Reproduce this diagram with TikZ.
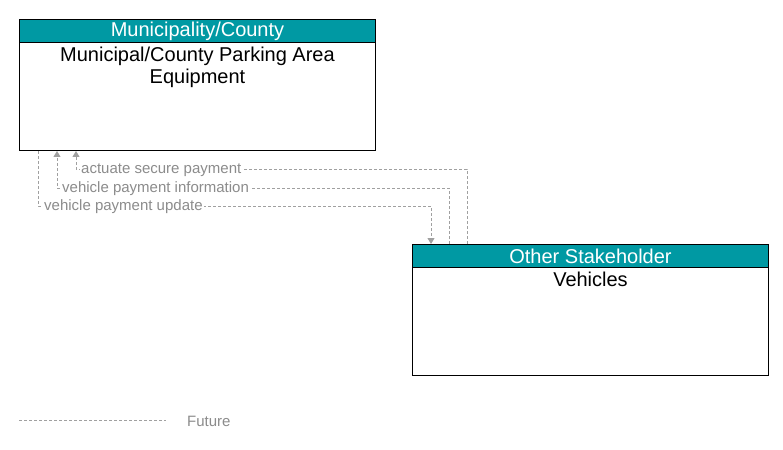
\documentclass[tikz,border=0pt]{standalone}
\usepackage{fontspec}
\setmainfont{Liberation Sans}
\usetikzlibrary{arrows.meta}
\definecolor{hdrteal}{RGB}{0,153,163}
\definecolor{flowgray}{RGB}{160,160,160}
\definecolor{labgray}{RGB}{140,140,140}
\begin{document}
\begin{tikzpicture}[x=1pt,y=-1pt,
  box/.style={draw=black,line width=1pt,fill=white,minimum width=356pt,minimum height=131pt,inner sep=0pt},
  hdr/.style={draw=black,line width=1pt,fill=hdrteal,text=white,minimum width=356pt,minimum height=23pt,inner sep=0pt,font=\fontsize{20}{22}\selectfont},
  body/.style={align=center,inner sep=0pt,font=\fontsize{20}{22}\selectfont},
  flow/.style={draw=flowgray,line width=0.9pt,dash pattern=on 3pt off 2pt},
  arr/.style={-{Triangle[width=7pt,length=6pt]}},
  flab/.style={text=labgray,fill=white,inner sep=1pt,anchor=west,font=\fontsize{15}{17}\selectfont}
]
\useasboundingbox (0,0) rectangle (783,449);
% boxes
\node[box,anchor=north west] (mpa) at (19,19) {};
\node[hdr,anchor=north] (mpah) at (mpa.north) {Municipality/County};
\node[body,anchor=north] (mpat) at ([yshift=-4pt]mpah.south) {Municipal/County Parking Area\\Equipment};
\node[box,anchor=north west] (veh) at (412,244) {};
\node[hdr,anchor=north] (vehh) at (veh.north) {Other Stakeholder};
\node[body,anchor=north] (veht) at ([yshift=-4pt]vehh.south) {Vehicles};
% routing coordinates
\coordinate (r1) at (467,169);
\coordinate (l1) at (76,169);
\coordinate (r2) at (449,188);
\coordinate (l2) at (57,188);
\coordinate (l3) at (38,206);
\coordinate (r3) at (431,206);
% flows
\draw[flow,arr] (veh.north -| r1) -- (r1) -- (l1) -- (mpa.south -| l1);
\node[flab] (t1) at (80,170) {actuate secure payment};
\draw[flow,arr] (veh.north -| r2) -- (r2) -- (l2) -- (mpa.south -| l2);
\node[flab] (t2) at (61,189) {vehicle payment information};
\draw[flow,arr] (mpa.south -| l3) -- (l3) -- (r3) -- (veh.north -| r3);
\node[flab] (t3) at (43,207) {vehicle payment update};
% legend
\coordinate (lg1) at (19,420);
\coordinate (lg2) at (166,420);
\draw[flow] (lg1) -- (lg2);
\node[flab,anchor=west] (lgt) at (186,421) {Future};
\end{tikzpicture}
\end{document}
